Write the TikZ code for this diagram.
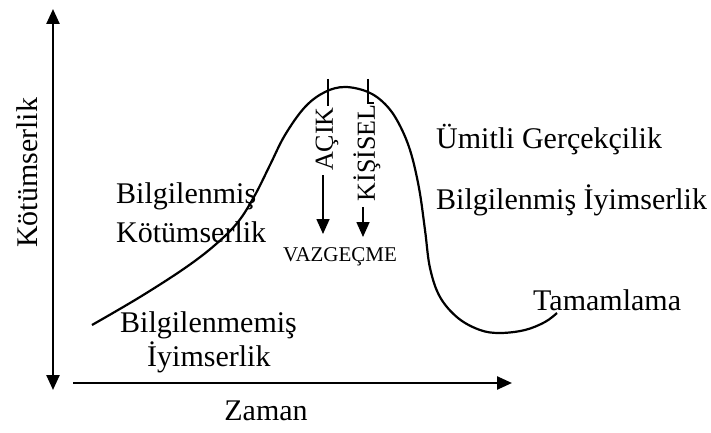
\documentclass[tikz,border=0pt]{standalone}
\usepackage{fontspec}
\setmainfont{Liberation Serif}
\usetikzlibrary{arrows.meta}
\begin{document}
\begin{tikzpicture}[x=1pt,y=-1pt,
  lbl/.style={font=\fontsize{30}{34}\selectfont, inner sep=0pt},
  rlbl/.style={font=\fontsize{26}{30}\selectfont, inner sep=0pt, rotate=90},
  slbl/.style={font=\fontsize{21}{24}\selectfont, inner sep=0pt},
  axis/.style={line width=2.4pt, -{Triangle[width=13pt,length=15pt]}},
  darr/.style={line width=1.6pt, -{Triangle[width=13pt,length=15pt]}},
  tick/.style={line width=1.3pt},
  curve/.style={line width=2.2pt}]
\useasboundingbox (0,0) rectangle (711,433);
% axes
\coordinate (ybot) at (53,390);
\coordinate (ytop) at (53,9);
\coordinate (xl) at (73,383);
\coordinate (xr) at (512,383);
\draw[axis, {Triangle[width=13pt,length=15pt]}-{Triangle[width=13pt,length=15pt]}] (ybot) -- (ytop);
\draw[axis] (xl) -- (xr);
\node[lbl, rotate=90] (yl) at (27,173) {Kötümserlik};
\node[lbl] (xlab) at (266,411) {Zaman};
% curve
\draw[curve] plot[smooth, tension=0.6] coordinates {
 (92,325) (140,297) (185,268) (215,245) (238,222) (255,195) (270,165)
 (285,135) (305,107) (325,92) (345,87) (368,92) (385,104) (398,122)
 (410,150) (419,188) (425,230) (430,268) (440,297) (458,318) (480,330)
 (500,333) (525,330) (545,322) (557,313)};
% labels
\node[lbl, anchor=west] (bk1) at (116,196) {Bilgilenmiş};
\node[lbl, anchor=west] (bk2) at (116,232) {Kötümserlik};
\node[lbl, anchor=west] (bi1) at (120,325) {Bilgilenmemiş};
\node[lbl, anchor=west] (bi2) at (147,357) {İyimserlik};
\node[lbl, anchor=west] (ug) at (436,140) {Ümitli Gerçekçilik};
\node[lbl, anchor=west] (bi) at (436,200) {Bilgilenmiş İyimserlik};
\node[lbl, anchor=west] (tm) at (533,300) {Tamamlama};
% peak annotations
\node[rlbl] (acik) at (327,139) {AÇIK};
\node[rlbl] (kis) at (367,153) {KİŞİSEL};
\node[slbl] (vaz) at (340,257) {VAZGEÇME};
\coordinate (t1a) at (328,79);
\coordinate (t1b) at (328,106);
\coordinate (t2a) at (368,79);
\coordinate (t2b) at (368,103);
\draw[tick] (t1a) -- (t1b);
\draw[tick] (t2a) -- (t2b) -- ++(6,0);
\coordinate (a1s) at (323,175);
\coordinate (a1e) at (323,234);
\coordinate (a2s) at (363,207);
\coordinate (a2e) at (363,237);
\draw[darr] (a1s) -- (a1e);
\draw[darr] (a2s) -- (a2e);
\end{tikzpicture}
\end{document}
